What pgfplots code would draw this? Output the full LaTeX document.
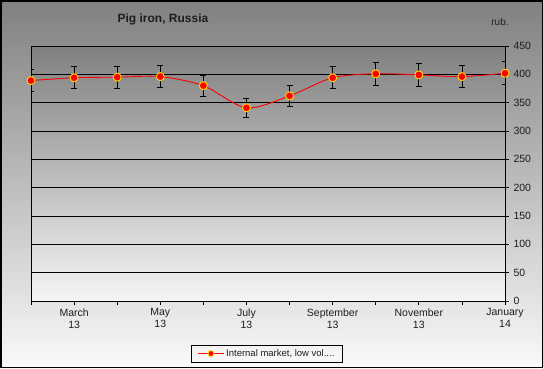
\documentclass[border=0pt]{standalone}
\usepackage{fontspec}
\setmainfont{Liberation Sans}
\usepackage{pgfplots}
\usepackage{pgfplotstable}
\pgfplotsset{compat=1.18}
\definecolor{bgtop}{RGB}{128,128,128}
\definecolor{bgbot}{RGB}{250,250,250}
\definecolor{plbot}{RGB}{245,245,245}
\definecolor{mkedge}{RGB}{255,215,0}
\definecolor{txt}{RGB}{30,30,30}
\pgfplotstableread{
x y e
0 389 19.5
1 394 19.7
2 395 19.8
3 396 19.8
4 380 19.0
5 341 17.0
6 362 18.1
7 394 19.7
8 401 20.0
9 399 20.0
10 396 19.8
11 402 20.1
}\pigiron
\begin{document}
\begin{tikzpicture}
\useasboundingbox (0pt,0pt) rectangle (543pt,368pt);
\shade[top color=bgtop, bottom color=bgbot] (0pt,0pt) rectangle (543pt,368pt);
\draw[line width=1.5pt] (0.75pt,0.75pt) rectangle (542.25pt,367.25pt);
\node[font=\bfseries\fontsize{12}{14}\selectfont, text=txt] at (163pt,349pt) {Pig iron, Russia};
\node[font=\fontsize{10}{12}\selectfont, text=txt] at (500pt,346pt) {rub.};
\begin{axis}[
  at={(31pt,67pt)}, anchor=south west,
  scale only axis, width=474pt, height=255pt,
  xmin=0, xmax=11, ymin=0, ymax=450,
  axis background/.style={top color=bgtop, bottom color=plbot},
  axis line style={black, line width=0.8pt},
  ymajorgrids, major grid style={black, line width=0.8pt},
  ytick={0,50,...,450},
  yticklabel pos=right, ytick pos=right,
  xtick={0,1,...,11}, xtick pos=left,
  xticklabels={,March\\13,,May\\13,,July\\13,,September\\13,,November\\13,,January\\14},
  tick align=outside, major tick length=4pt,
  tick style={black, line width=0.8pt},
  /pgf/number format/assume math mode=true,
  ticklabel style={font=\fontsize{10.5}{12}\selectfont, text=txt},
  xticklabel style={align=center},
  yticklabel style={xshift=1pt},
  legend style={at={(0.498,-0.206)}, anchor=center, draw=black, fill=none,
    font=\fontsize{9.5}{11}\selectfont, inner xsep=6pt, inner ysep=2pt,
    text=txt},
  legend image code/.code={\draw[mark repeat=2,mark phase=2,#1,mark size=3pt] plot coordinates {(0cm,0cm) (0.45cm,0cm) (0.9cm,0cm)};},
]
\addplot[draw=none, forget plot,
  error bars/.cd, y dir=both, y explicit,
  error bar style={draw=black, line width=0.8pt},
  error mark options={rotate=90, mark size=3pt, draw=black, line width=0.8pt}]
  table[x=x, y=y, y error=e] {\pigiron};
\addplot[red, line width=0.9pt, smooth, tension=0.5, mark=*, mark size=4pt,
  mark options={fill=red, draw=mkedge, line width=0.9pt}]
  table[x=x, y=y] {\pigiron};
\addlegendentry{Internal market, low vol....}
\end{axis}
\end{tikzpicture}
\end{document}
